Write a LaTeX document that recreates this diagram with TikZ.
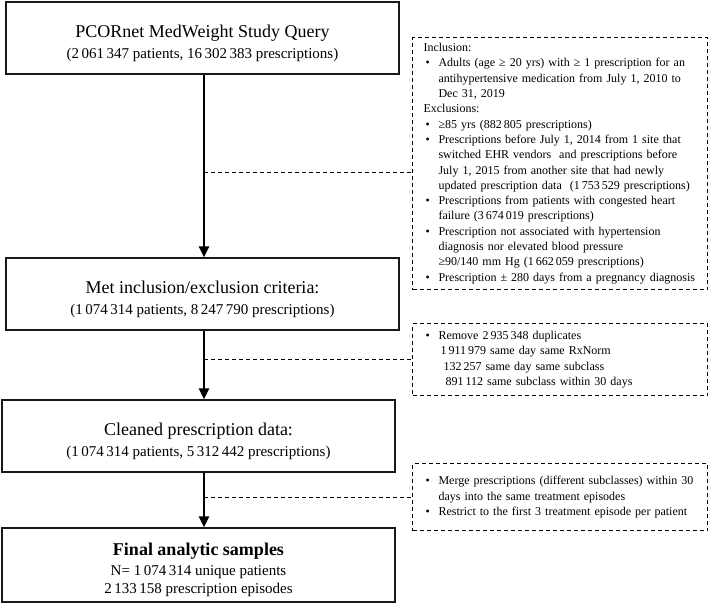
\documentclass[tikz,border=0pt]{standalone}
\usepackage{fontspec}
\setmainfont{Liberation Serif}
\usetikzlibrary{arrows.meta,calc}
\newcommand\bl[1]{\mbox{\makebox[15pt][l]{\hspace{2pt}\textbullet}#1}}
\newcommand\ind[2][0pt]{\mbox{\hspace*{15pt}\hspace*{#1}#2}}
\newcommand\subt{\fontsize{15}{18}\selectfont}
\newcommand\lift{\rule{0pt}{23pt}}
\begin{document}
\begin{tikzpicture}[x=1pt,y=-1pt,
  mainbox/.style={draw=black!90, line width=1.4pt, minimum width=393pt, minimum height=72pt, inner sep=0pt, align=center, font=\fontsize{18}{21}\selectfont},
  dbox/.style={draw, dash pattern=on 4pt off 3pt, line width=1.1pt, anchor=north west, inner xsep=11pt, inner ysep=0pt, align=left, text width=273pt, font=\fontsize{12}{15.3}\selectfont},
  flow/.style={line width=2.8pt, -{Triangle[length=11pt,width=10pt]}},
  link/.style={dash pattern=on 4pt off 3pt, line width=0.9pt}]
\useasboundingbox (0,0) rectangle (709,604);

\node[mainbox] (b1) at (202.5,38) {\lift PCORnet MedWeight Study Query\\\subt (2\,061\,347 patients, 16\,302\,383 prescriptions)};
\node[mainbox] (b2) at (202.5,294) {\lift Met inclusion/exclusion criteria:\\\subt (1\,074\,314 patients, 8\,247\,790 prescriptions)};
\node[mainbox] (b3) at (198.5,436) {\lift Cleaned prescription data:\\\subt (1\,074\,314 patients, 5\,312\,442 prescriptions)};
\node[mainbox, minimum height=74pt] (b4) at (198.5,565) {\lift\bfseries Final analytic samples\\[-1pt]\subt N= 1\,074\,314 unique patients\\[-3pt]\subt 2\,133\,158 prescription episodes};

\node[dbox, minimum width=295pt, minimum height=252pt] (bA) at (412,37) {%
Inclusion:\\
\bl{Adults (age ≥ 20 yrs) with ≥ 1 prescription for an}\\
\ind{antihypertensive medication from July 1, 2010 to}\\
\ind{Dec 31, 2019}\\
Exclusions:\\
\bl{≥85 yrs (882\,805 prescriptions)}\\
\bl{Prescriptions before July 1, 2014 from 1 site that}\\
\ind{switched EHR vendors\ \ and prescriptions before}\\
\ind{July 1, 2015 from another site that had newly}\\
\ind{updated prescription data\ \ (1\,753\,529 prescriptions)}\\
\bl{Prescriptions from patients with congested heart}\\
\ind{failure (3\,674\,019 prescriptions)}\\
\bl{Prescription not associated with hypertension}\\
\ind{diagnosis nor elevated blood pressure}\\
\ind{≥90/140 mm Hg (1\,662\,059 prescriptions)}\\
\bl{Prescription ± 280 days from a pregnancy diagnosis}};

\node[dbox, minimum width=295pt, minimum height=72pt] (bB) at (412,323) {%
\bl{Remove 2\,935\,348 duplicates}\\
\ind[2pt]{1\,911\,979 same day same RxNorm}\\
\ind[5pt]{132\,257 same day same subclass}\\
\ind[7pt]{891\,112 same subclass within 30 days}};

\node[dbox, minimum width=295pt, minimum height=67pt] (bC) at (412,463) {%
\bl{Merge prescriptions (different subclasses) within 30}\\
\ind{days into the same treatment episodes}\\
\bl{Restrict to the first 3 treatment episode per patient}};

\coordinate (ax) at (204,0);
\draw[flow] (b1.south -| ax) -- (b2.north -| ax);
\draw[flow] (b2.south -| ax) -- (b3.north -| ax);
\draw[flow] (b3.south -| ax) -- (b4.north -| ax);

\coordinate (d1) at (204,172);
\coordinate (d2) at (204,359);
\coordinate (d3) at (204,497);
\draw[link] (d1) -- (d1 -| bA.west);
\draw[link] (d2) -- (d2 -| bB.west);
\draw[link] (d3) -- (d3 -| bC.west);
\end{tikzpicture}
\end{document}
